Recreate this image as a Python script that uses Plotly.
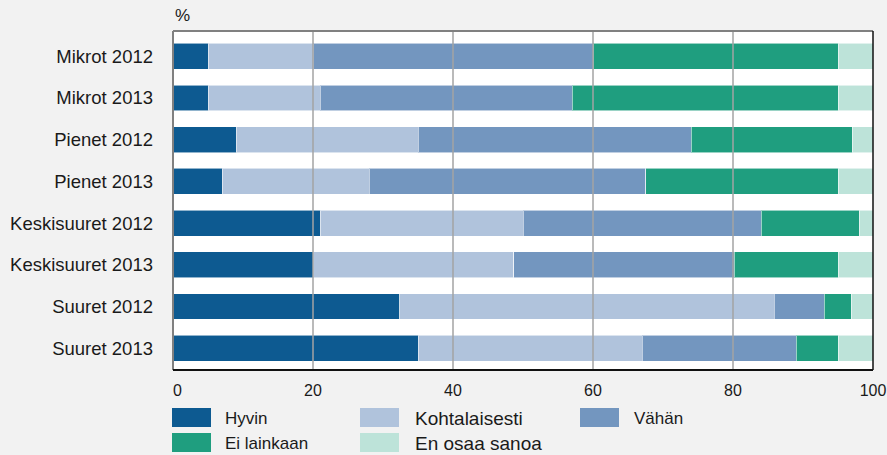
import plotly.graph_objects as go

categories = ["Mikrot 2012", "Mikrot 2013", "Pienet 2012", "Pienet 2013",
              "Keskisuuret 2012", "Keskisuuret 2013", "Suuret 2012", "Suuret 2013"]
hyvin = [5, 5, 9, 7, 21, 20, 32.4, 35]
kohtalaisesti = [15, 16, 26, 21, 29, 28.7, 53.5, 32]
vahan = [40, 36, 39, 39.5, 34, 31.5, 7.1, 22]
ei_lainkaan = [35, 38, 23, 27.5, 14, 14.8, 3.9, 6]
en_osaa = [5, 5, 3, 5, 2, 5, 3.1, 5]
series_names = ["Hyvin", "Kohtalaisesti", "Vähän", "Ei lainkaan", "En osaa sanoa"]
series_values = [hyvin, kohtalaisesti, vahan, ei_lainkaan, en_osaa]
colors = ["#0d5a91", "#b0c3dc", "#7396bf", "#1f9e7f", "#bde3d9"]
x_ticks = [0, 20, 40, 60, 80, 100]
x_tick_labels = ["\u00a0\u00a00", "20", "40", "60", "80", "100"]

W, H = 887, 455
L, R, T, B = 173, 14, 31, 85
FONT = "Liberation Sans, Arial, sans-serif"
TXT = "#1a1a1a"

def px(xp):
    return (xp - L) / (W - L - R)

def py(yp):
    return (H - B - yp) / (H - T - B)

fig = go.Figure()
for name, vals, col in zip(series_names, series_values, colors):
    fig.add_trace(go.Bar(
        y=categories, x=vals, name=name, orientation="h",
        marker=dict(color=col, line=dict(color="rgba(255,255,255,0.55)", width=1)),
        width=0.62, showlegend=False,
    ))

shapes = []
# gridlines above bars
for t in x_ticks[1:-1]:
    shapes.append(dict(type="line", xref="x", yref="paper", x0=t, x1=t, y0=0, y1=1,
                       line=dict(color="#a3a3a3", width=1.5), layer="above"))
# plot borders
shapes += [
    dict(type="line", xref="paper", yref="paper", x0=0, x1=1, y0=1, y1=1,
         line=dict(color="#808080", width=2), layer="above"),
    dict(type="line", xref="paper", yref="paper", x0=0, x1=0, y0=0, y1=1,
         line=dict(color="#808080", width=2), layer="above"),
    dict(type="line", xref="paper", yref="paper", x0=1, x1=1, y0=0, y1=1,
         line=dict(color="#111111", width=1.5), layer="above"),
    dict(type="line", xref="paper", yref="paper", x0=0, x1=1, y0=0, y1=0,
         line=dict(color="#111111", width=2), layer="above"),
]

annotations = [dict(text="%", xref="paper", yref="paper", x=px(173), y=py(16),
                    xanchor="left", yanchor="middle", showarrow=False,
                    font=dict(size=17, color=TXT, family=FONT))]

# manual legend (wide swatches)
legend_layout = [
    # name, swatch x, text x, row center y, font size
    ("Hyvin", 172, 223, 417.5, 17),
    ("Kohtalaisesti", 360, 413, 417.5, 19),
    ("Vähän", 580, 632, 417.5, 17),
    ("Ei lainkaan", 172, 223, 442.5, 17),
    ("En osaa sanoa", 360, 413, 442.5, 19),
]
for (name, sx, tx, cy, fs) in legend_layout:
    col = colors[series_names.index(name)]
    shapes.append(dict(type="rect", xref="paper", yref="paper",
                       x0=px(sx), x1=px(sx + 39), y0=py(cy - 9.5), y1=py(cy + 9.5),
                       fillcolor=col, line=dict(width=0), layer="above"))
    annotations.append(dict(text=name, xref="paper", yref="paper", x=px(tx), y=py(cy + 1),
                            xanchor="left", yanchor="middle", showarrow=False,
                            font=dict(size=fs, color=TXT, family=FONT)))

fig.update_layout(
    width=W, height=H,
    autosize=False,
    margin=dict(l=L, r=R, t=T, b=B, autoexpand=False),
    barmode="stack",
    paper_bgcolor="#f2f2f2",
    plot_bgcolor="#ffffff",
    font=dict(family=FONT, color=TXT),
    shapes=shapes,
    annotations=annotations,
    showlegend=False,
    xaxis=dict(range=[0, 100], tickvals=x_ticks, ticktext=x_tick_labels,
               showgrid=False, zeroline=False, showline=False, ticks="",
               automargin=False, ticklabeloverflow="allow",
               ticklabelstandoff=9, tickfont=dict(size=16, color=TXT, family=FONT),
               fixedrange=True),
    yaxis=dict(categoryorder="array", categoryarray=categories,
               range=[7.523, -0.607], showgrid=False, zeroline=False, showline=False,
               ticks="", ticklabelstandoff=19, automargin=False,
               tickfont=dict(size=18.5, color=TXT, family=FONT), fixedrange=True),
)

fig.write_html(
    "out.html",
    config={"displayModeBar": False},
    post_script="document.body.style.margin='0';document.body.style.padding='0';"
                "document.body.style.overflow='hidden';document.body.style.background='#f2f2f2';",
)
